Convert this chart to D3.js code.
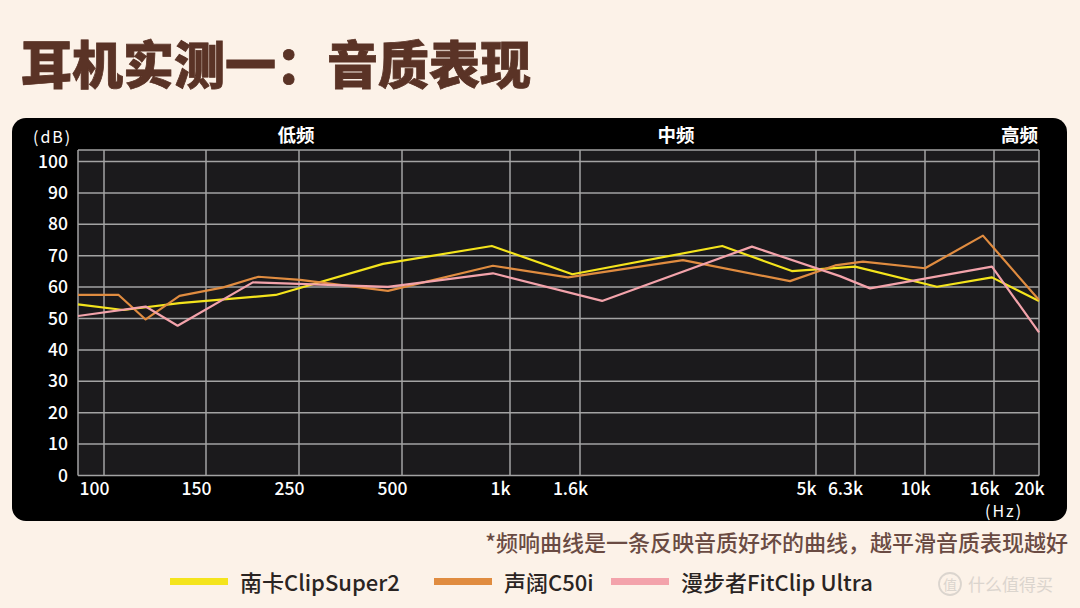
<!DOCTYPE html>
<html>
<head>
<meta charset="utf-8">
<script src="https://cdn.jsdelivr.net/npm/d3@7"></script>
<style>
  html, body { margin: 0; padding: 0; background: #fcf2e8; }
  svg { display: block; font-family: "Noto Sans CJK SC", "Noto Sans", sans-serif; }
</style>
</head>
<body>
<svg id="chart" width="1080" height="608"></svg>
<script>
// --- data ---
const seriesNames = ["南卡ClipSuper2", "声阔C50i", "漫步者FitClip Ultra"];

const nankaFreq = [90, 108, 135, 220, 440, 890, 1520, 3180, 4450, 6300, 10850, 15780, 20000];
const nankaDb   = [54.5, 52.7, 54.9, 57.5, 67.4, 73.1, 64.1, 73.1, 65.1, 66.5, 60.1, 63.1, 55.6];

const shengkuoFreq = [90, 106, 118, 135, 165, 200, 252, 455, 896, 1476, 2630, 4410, 5600, 6640, 10000, 14840, 20000];
const shengkuoDb   = [57.5, 57.5, 49.7, 57.2, 59.9, 63.3, 62.3, 58.8, 66.8, 63.1, 68.6, 61.9, 66.9, 68.1, 66.0, 76.4, 55.9];

const edifierFreq = [90, 118, 134, 194, 455, 896, 1780, 3670, 5760, 6960, 15780, 20000];
const edifierDb   = [50.8, 53.8, 47.7, 61.5, 60.1, 64.4, 55.6, 72.9, 63.5, 59.6, 66.5, 45.6];

const freqTicks  = [100, 150, 250, 500, 1000, 1600, 5000, 6300, 10000, 16000, 20000];
const tickLabels = ["100", "150", "250", "500", "1k", "1.6k", "5k", "6.3k", "10k", "16k", "20k"];
const dbTicks    = [0, 10, 20, 30, 40, 50, 60, 70, 80, 90, 100];
const bandNames  = ["低频", "中频", "高频"];

const colors = ["#f4e41c", "#e08c40", "#f3a3ab"];

// --- layout ---
const W = 1080, H = 608;
const card = { x: 12, y: 118, w: 1055, h: 403 };
const plot = { left: 78, right: 1039, top: 150, bottom: 475.5 };
// hand-spaced frequency grid, offsets from the plot's left edge (px)
const gridOffsets = [0, 26, 128, 221, 324, 432, 502, 738, 777, 847, 916, 961];

const svg = d3.select("#chart");

svg.append("rect").attr("width", W).attr("height", H).attr("fill", "#fcf2e8");

// title
svg.append("text")
    .attr("x", 21).attr("y", 84)
    .attr("font-size", 51)
    .attr("font-weight", 900)
    .attr("fill", "#5a3326")
    .attr("stroke", "#5a3326")
    .attr("stroke-width", 0.8)
    .text("耳机实测一：音质表现");

// black card
svg.append("rect")
    .attr("x", card.x).attr("y", card.y)
    .attr("width", card.w).attr("height", card.h)
    .attr("rx", 14)
    .attr("fill", "#000");

const x = d3.scaleLog()
    .domain([90, ...freqTicks])
    .range(gridOffsets.map(d => plot.left + d));

const y = d3.scaleLinear()
    .domain([0, 100])
    .range([plot.bottom, 161.5]);

svg.append("rect")
    .attr("x", plot.left).attr("y", plot.top)
    .attr("width", plot.right - plot.left)
    .attr("height", plot.bottom - plot.top)
    .attr("fill", "#1b1a1c");

// grid
const grid = svg.append("g")
    .attr("stroke", "#a3a3a3")
    .attr("stroke-width", 1.5);

grid.selectAll("line.h")
  .data(dbTicks)
  .join("line")
    .attr("x1", plot.left).attr("x2", plot.right)
    .attr("y1", d => y(d)).attr("y2", d => y(d));

grid.append("line")
    .attr("x1", plot.left).attr("x2", plot.right)
    .attr("y1", plot.top).attr("y2", plot.top);

grid.selectAll("line.v")
  .data([90, ...freqTicks])
  .join("line")
    .attr("x1", d => x(d)).attr("x2", d => x(d))
    .attr("y1", plot.top).attr("y2", plot.bottom);

// y axis labels
const yAxis = svg.append("g")
    .attr("transform", `translate(${plot.left - 10},0)`)
    .call(d3.axisLeft(y).tickValues(dbTicks).tickSize(0).tickPadding(0));
yAxis.select(".domain").remove();
yAxis.selectAll("text")
    .attr("fill", "#fff")
    .attr("font-size", 17.5)
    .attr("font-weight", 500)
    .attr("font-family", "'Noto Sans CJK SC', sans-serif");

// x axis labels
const xAxis = svg.append("g")
    .attr("transform", `translate(-10,${plot.bottom + 2})`)
    .call(d3.axisBottom(x)
      .tickValues(freqTicks)
      .tickFormat((d, i) => tickLabels[i])
      .tickSize(0).tickPadding(0));
xAxis.select(".domain").remove();
xAxis.selectAll("text")
    .attr("fill", "#fff")
    .attr("font-size", 17.5)
    .attr("font-weight", 500)
    .attr("dy", "1em")
    .attr("font-family", "'Noto Sans CJK SC', sans-serif");

// unit labels
svg.append("text")
    .attr("x", 33).attr("y", 143)
    .attr("fill", "#fff").attr("font-size", 16)
    .attr("letter-spacing", 2)
    .text("(dB)");
svg.append("text")
    .attr("x", 985).attr("y", 517)
    .attr("fill", "#fff").attr("font-size", 16)
    .attr("letter-spacing", 2)
    .text("(Hz)");

// band headers
const bandX = [296, 676, 1038];
const bandAnchor = ["middle", "middle", "end"];
svg.append("g")
  .selectAll("text")
  .data(bandNames)
  .join("text")
    .attr("x", (d, i) => bandX[i])
    .attr("y", 142)
    .attr("text-anchor", (d, i) => bandAnchor[i])
    .attr("fill", "#fff")
    .attr("font-size", 18.5)
    .attr("font-weight", "bold")
    .text(d => d);

// curves
const series = [
  { name: seriesNames[0], values: nankaFreq.map((f, i) => [f, nankaDb[i]]) },
  { name: seriesNames[1], values: shengkuoFreq.map((f, i) => [f, shengkuoDb[i]]) },
  { name: seriesNames[2], values: edifierFreq.map((f, i) => [f, edifierDb[i]]) }
];

const line = d3.line()
    .x(d => x(d[0]))
    .y(d => y(d[1]));

svg.append("g")
  .selectAll("path")
  .data(series)
  .join("path")
    .attr("d", d => line(d.values))
    .attr("fill", "none")
    .attr("stroke", (d, i) => colors[i])
    .attr("stroke-width", 2.2)
    .attr("stroke-linejoin", "round");

// footnote
svg.append("text")
    .attr("x", 1068).attr("y", 551)
    .attr("text-anchor", "end")
    .attr("fill", "#6a4b43")
    .attr("font-size", 22)
    .attr("font-weight", 500)
    .text("*频响曲线是一条反映音质好坏的曲线，越平滑音质表现越好");

// legend
const legendX = [170, 434, 611];
const legend = svg.append("g")
  .selectAll("g")
  .data(seriesNames)
  .join("g")
    .attr("transform", (d, i) => `translate(${legendX[i]},584)`);

legend.append("rect")
    .attr("x", 0).attr("y", -6)
    .attr("width", 58).attr("height", 7)
    .attr("fill", (d, i) => colors[i]);

legend.append("text")
    .attr("x", 70).attr("y", 7)
    .attr("fill", "#2a2422")
    .attr("font-size", 22)
    .attr("font-weight", 500)
    .text(d => d);

// watermark
const wm = svg.append("g").attr("opacity", 0.85);
wm.append("circle")
    .attr("cx", 950).attr("cy", 584).attr("r", 11)
    .attr("fill", "none").attr("stroke", "#d6d0ca").attr("stroke-width", 1.8);
wm.append("text")
    .attr("x", 950).attr("y", 589.5)
    .attr("text-anchor", "middle")
    .attr("fill", "#d6d0ca").attr("font-size", 14)
    .text("值");
wm.append("text")
    .attr("x", 968).attr("y", 591)
    .attr("fill", "#d6d0ca").attr("font-size", 17)
    .text("什么值得买");
</script>
</body>
</html>
